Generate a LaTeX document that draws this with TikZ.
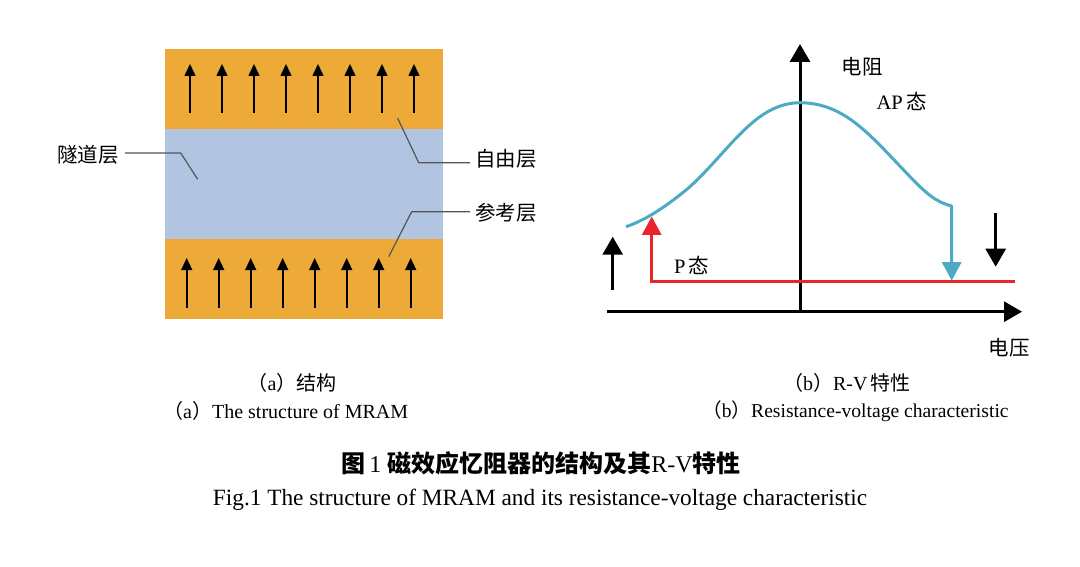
\documentclass[tikz,border=0pt]{standalone}
\usepackage{fontspec}
\setmainfont{Liberation Serif}
\newfontfamily\cjk{Noto Sans CJK SC}
\usetikzlibrary{arrows.meta}
\definecolor{layerorange}{RGB}{237,170,56}
\definecolor{layerblue}{RGB}{177,197,226}
\definecolor{curveteal}{RGB}{76,170,196}
\definecolor{pred}{RGB}{232,38,42}
\definecolor{leadgray}{RGB}{85,85,85}
\tikzset{
  spinarrow/.style={line width=1.6pt,-{Triangle[width=11pt,length=12pt]}},
  axisarrow/.style={line width=3pt,-{Triangle[width=20pt,length=18pt]}},
  leader/.style={leadgray,line width=1.2pt},
  lbl/.style={font=\fontsize{20.5}{22}\selectfont\cjk,inner sep=0pt},
  statelbl/.style={font=\fontsize{20.5}{22}\selectfont,inner sep=0pt},
  captext/.style={font=\fontsize{20}{22}\selectfont,inner sep=0pt},
}
\begin{document}
\begin{tikzpicture}[x=1pt,y=-1pt]
\useasboundingbox (0,0) rectangle (1080,567);
% ---------- panel (a)
\fill[layerorange] (165,49) rectangle (443,129);
\fill[layerblue] (165,129) rectangle (443,239);
\fill[layerorange] (165,239) rectangle (443,319);
\foreach \i in {0,...,7}{
  \draw[spinarrow] (190+32*\i,113) -- (190+32*\i,64);
  \draw[spinarrow] (186.7+32*\i,308) -- (186.7+32*\i,258);
}
\node[lbl,anchor=east] (tun) at (119,155) {隧道层};
\coordinate (tunA) at (197.7,179.3);
\draw[leader] (125,153) -- (180.7,153) -- (tunA);
\node[lbl,anchor=west] (free) at (475,159) {自由层};
\coordinate (freeA) at (397.7,118.3);
\draw[leader] (freeA) -- (418.7,162.7) -- (470,162.7);
\node[lbl,anchor=west] (ref) at (475,213) {参考层};
\coordinate (refA) at (388.7,256.7);
\draw[leader] (refA) -- (411.7,211.7) -- (470,211.7);
% ---------- panel (b)
\coordinate (xo) at (607,311.7);
\coordinate (xe) at (1022,311.7);
\coordinate (yo) at (800,311.7);
\coordinate (ye) at (800,44);
\draw[axisarrow] (xo) -- (xe);
\draw[axisarrow] (yo) -- (ye);
\draw[pred,line width=3pt] (1015,281.7) -- (651.7,281.7) -- (651.7,235);
\fill[pred] (651.7,216.7) -- (661.7,235) -- (641.7,235) -- cycle;
\draw[curveteal,line width=3pt,line join=round]
  (626,226.7) .. controls (640,222) and (660,212) .. (690,186.7)
  .. controls (730,150) and (755,103) .. (800,102.7)
  .. controls (845,103) and (870,135) .. (910,176.7)
  .. controls (925,192) and (935,202) .. (951.7,206)
  -- (951.7,262);
\fill[curveteal] (951.7,280.5) -- (961.7,262) -- (941.7,262) -- cycle;
\draw[line width=3pt,-{Triangle[width=20pt,length=18pt]}] (612.7,290) -- (612.7,236.7);
\draw[line width=3pt,-{Triangle[width=20pt,length=18pt]}] (995.7,212.7) -- (995.7,266.7);
\node[lbl] (res) at (862,67) {电阻};
\node[statelbl] (ap) at (901.7,101.7) {AP\,{\cjk 态}};
\node[statelbl] (p) at (691.7,265) {P\,{\cjk 态}};
\node[lbl] (volt) at (1009,348) {电压};
% ---------- captions
\node[captext] (ca1) at (292,383) {{\cjk （}a{\cjk ）结构}};
\node[captext,anchor=west] (ca2) at (163,411) {{\cjk （}a{\cjk ）}The structure of MRAM};
\node[captext] (cb1) at (847,383) {{\cjk （}b{\cjk ）}R-V\,{\cjk 特性}};
\node[captext,anchor=west,font=\fontsize{19.6}{22}\selectfont] (cb2) at (702,411) {{\cjk （}b{\cjk ）}Resistance-voltage characteristic};
\node[inner sep=0pt,font=\fontsize{24}{26}\selectfont] (t1) at (541,463) {{\cjk\bfseries 图}\,1 {\cjk\bfseries 磁效应忆阻器的结构及其}R-V{\cjk\bfseries 特性}};
\node[inner sep=0pt,font=\fontsize{23.3}{25}\selectfont] (t2) at (540,500) {Fig.1 The structure of MRAM and its resistance-voltage characteristic};
\end{tikzpicture}
\end{document}
